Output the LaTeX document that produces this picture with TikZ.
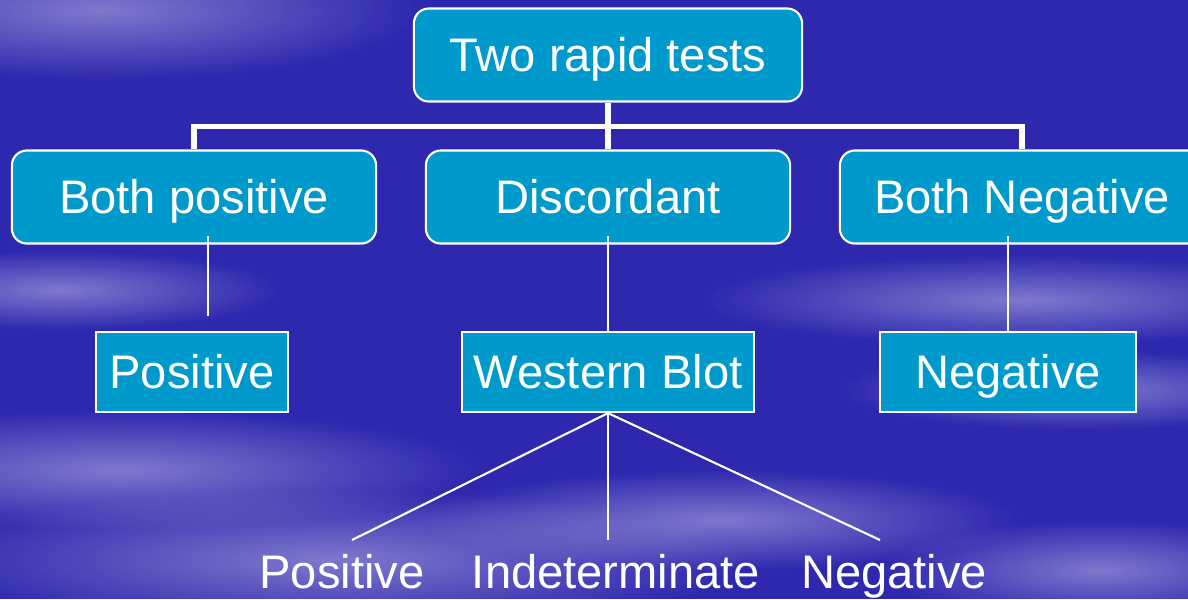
\documentclass[tikz,border=0pt]{standalone}
\usepackage{fontspec}
\setmainfont{Liberation Sans}
\usetikzlibrary{fadings}

\definecolor{skyblue}{RGB}{46,40,174}
\definecolor{boxblue}{RGB}{0,153,204}

\tikzfading[name=puff, inner color=transparent!62, outer color=transparent!100]

\tikzset{
  label text/.style={text=white, font=\fontsize{13.4}{16}\selectfont, text height=0.33cm, text depth=0cm},
  roundbox/.style={label text, draw=white, line width=0.6pt, fill=boxblue, rounded corners=0.15cm,
    minimum width=3.64cm, minimum height=0.93cm},
  flatbox/.style={label text, draw=white, line width=0.6pt, fill=boxblue, minimum height=0.8cm},
  result/.style={label text},
  trunk/.style={draw=white, line width=1.5pt},
  twig/.style={draw=white, line width=0.6pt},
  cloud/.style={fill=white, path fading=puff}
}

\begin{document}
\begin{tikzpicture}[x=0.01cm, y=-0.01cm]

% Page and sky
\useasboundingbox (0,0) rectangle (1188,599);
\clip (0,0) rectangle (1188,599);
\fill[skyblue] (0,0) rectangle (1188,599);
\fill[cloud] (100,10) ellipse [x radius=3.2cm, y radius=0.7cm];
\fill[cloud] (60,290) ellipse [x radius=2.2cm, y radius=0.4cm];
\fill[cloud] (120,470) ellipse [x radius=3.6cm, y radius=0.6cm];
\fill[cloud] (330,560) ellipse [x radius=4.2cm, y radius=0.7cm];
\fill[cloud] (720,520) ellipse [x radius=3cm, y radius=0.5cm];
\fill[cloud] (1020,300) ellipse [x radius=3.2cm, y radius=0.45cm];
\fill[cloud] (1080,390) ellipse [x radius=2.4cm, y radius=0.4cm];
\fill[cloud] (1100,570) ellipse [x radius=2.2cm, y radius=0.5cm];

% Boxes
\node[roundbox, minimum width=3.88cm] (top) at (608,55) {Two rapid tests};
\node[roundbox] (bothpos) at (194,197) {Both positive};
\node[roundbox] (disc) at (608,197) {Discordant};
\node[roundbox] (bothneg) at (1022,197) {Both Negative};
\node[flatbox, minimum width=1.92cm] (pos) at (192,372) {Positive};
\node[flatbox, minimum width=2.87cm] (wblot) at (608,372) {Western Blot};
\node[flatbox, minimum width=2.56cm] (neg) at (1008,372) {Negative};

% Western blot outcomes
\node[result] (rpos) at (342,572) {Positive};
\node[result] (rind) at (616,572) {Indeterminate};
\node[result] (rneg) at (894,572) {Negative};

% Free ends of the thin lines
\coordinate (pa) at (208,236);
\coordinate (pb) at (208,316);
\coordinate (da) at (608,236);
\coordinate (na) at (1008,236);
\coordinate (lp) at (352,540);
\coordinate (li) at (608,540);
\coordinate (ln) at (880,540);

% Tree from the top box
\draw[trunk] (top.south) -- ++(0,24) -| (bothpos.north);
\draw[trunk] (top.south) -- (disc.north);
\draw[trunk] (top.south) -- ++(0,24) -| (bothneg.north);

% Thin links
\draw[twig] (pa) -- (pb);
\draw[twig] (da) -- (wblot.north);
\draw[twig] (na) -- (neg.north);
\draw[twig] (wblot.south) -- (lp);
\draw[twig] (wblot.south) -- (li);
\draw[twig] (wblot.south) -- (ln);

\end{tikzpicture}
\end{document}
